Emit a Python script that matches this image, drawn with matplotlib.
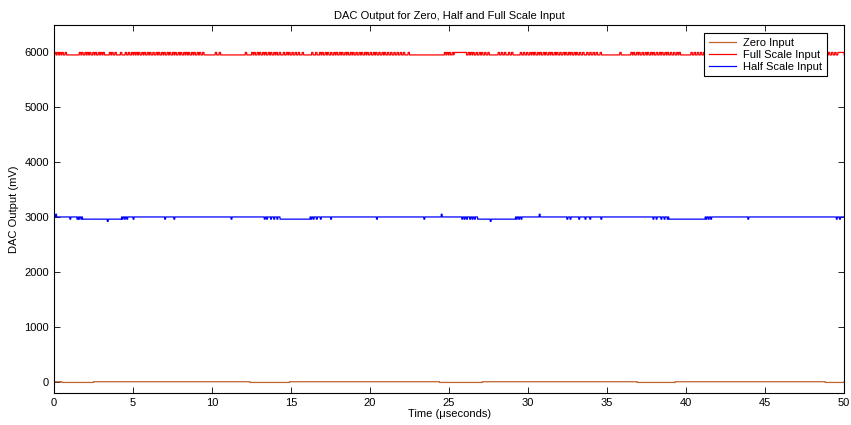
import numpy as np
import matplotlib
matplotlib.use("Agg")
import matplotlib.pyplot as plt

plt.rcParams['font.family'] = ['Liberation Sans', 'DejaVu Sans']

# levels (mV)
zero_hi = 5
zero_lo = -8
half_hi = 3005
half_lo = 2965
half_deep = 2925
half_up = 3055
full_lo = 5955
full_hi = 6000

# zero input: spans where the line sits on the lower level (us)
zero_low_spans = [(0.5, 2.5), (12.4, 14.9), (24.4, 27.1), (36.9, 39.3), (48.8, 50.0)]

# half scale: spans on the lower level, short dips, deeper dips, up spikes
half_low_spans = [(1.85, 4.27), (14.3, 16.2), (26.8, 29.2), (38.9, 41.2)]
half_dips = [1.0, 1.45, 1.55, 1.7, 1.8, 4.3, 4.45, 4.6, 5.0, 7.0, 7.58, 11.2,
             13.3, 13.45, 13.7, 13.9, 14.1, 16.25, 16.4, 16.6, 16.85, 17.5,
             20.4, 23.4, 25.8, 25.95, 26.1, 26.3, 26.45, 26.6, 29.25, 29.4,
             29.55, 32.45, 32.65, 33.2, 33.6, 33.9, 34.6, 37.9, 38.1, 38.4,
             38.6, 38.8, 41.25, 41.4, 41.55, 43.9, 49.5, 49.7]
half_deep_dips = [3.37, 27.6]
half_up_spikes = [0.1, 24.5, 30.7]

# full scale: short pulses up to the higher code, plus longer high spans
full_pulses = [0.05, 0.2, 0.35, 0.5, 0.7,
               1.6, 1.75, 1.95, 2.1, 2.25, 2.45, 2.6, 2.8, 2.95, 3.1,
               3.5, 3.65, 3.85, 4.2, 4.5, 4.7, 4.9, 5.05, 5.2, 5.35, 5.55,
               5.7, 5.9, 6.05, 6.25, 6.45, 6.6, 6.8, 6.95, 7.15, 7.3, 7.5,
               7.65, 7.85, 8.0, 8.2, 8.35, 8.5, 8.7, 8.85, 9.05, 9.2, 9.4,
               10.2, 10.45, 12.1, 12.5, 12.65, 12.85, 13.0, 13.2, 13.35,
               13.55, 13.7, 13.9, 14.05, 14.25, 14.5, 14.7, 14.85, 15.05,
               15.25, 15.45, 15.7, 16.3, 16.55, 16.8, 16.95, 17.15, 17.3,
               17.5, 17.7, 17.85, 18.05, 18.2, 18.4, 18.55, 18.75, 18.9,
               19.1, 19.3, 19.45, 19.65, 19.8, 20.0, 20.2, 20.35, 20.55,
               20.75, 20.9, 21.1, 21.3, 21.5, 21.7, 21.9, 22.1, 22.4,
               24.7, 24.85, 25.0, 25.2, 26.2, 26.35, 26.5, 26.7, 26.9,
               27.05, 27.25, 27.45, 28.1, 28.3, 28.5, 28.75, 28.95, 29.5,
               29.7, 29.9, 30.1, 30.25, 30.4, 30.6, 30.75, 30.95, 31.1,
               31.3, 31.45, 31.65, 31.8, 32.0, 32.2, 32.35, 32.55, 32.7,
               32.9, 33.05, 33.25, 33.45, 33.7, 33.9, 34.1, 34.3, 34.55,
               35.8, 36.5, 36.65, 36.85, 37.0, 37.2, 37.4, 37.55, 37.75,
               37.9, 38.1, 38.3, 38.45, 38.65, 38.8, 39.0, 39.2, 39.4,
               39.55, 40.3, 40.5, 40.7, 40.9, 41.1, 42.0, 42.3, 42.6, 43.0,
               44.5, 44.8, 45.2, 47.0, 47.4, 49.0, 49.2, 49.4]
full_high_spans = [(25.3, 26.1), (49.6, 50.0)]

dip_w = 0.06
pulse_w = 0.09
t = np.linspace(0, 50, 10001)


def build(base, spans, span_lvl, events, event_lvl, width):
    y = np.full(t.shape, float(base))
    for a, b in spans:
        y[(t >= a) & (t < b)] = span_lvl
    for e in events:
        y[(t >= e) & (t < e + width)] = event_lvl
    return y


zero = build(zero_hi, zero_low_spans, zero_lo, [], zero_lo, dip_w)
half = build(half_hi, half_low_spans, half_lo, half_dips, half_lo, dip_w)
for e in half_deep_dips:
    half[(t >= e) & (t < e + dip_w)] = half_deep
for e in half_up_spikes:
    half[(t >= e) & (t < e + dip_w)] = half_up
full = build(full_lo, full_high_spans, full_hi, full_pulses, full_hi, pulse_w)

fig = plt.figure(figsize=(8.51, 4.25), dpi=100)
ax = fig.add_axes([0.0635, 0.0753, 0.9285, 0.8659])

ax.plot(t, zero, color='#c0622e', lw=0.9, label='Zero Input')
ax.plot(t, full, color='#ff0000', lw=0.9, label='Full Scale Input')
ax.plot(t, half, color='#0000ff', lw=0.9, label='Half Scale Input')

ax.set_xlim(0, 50)
ax.set_ylim(-200, 6500)
ax.set_xticks(np.arange(0, 51, 5))
ax.set_yticks(np.arange(0, 6001, 1000))
ax.tick_params(direction='in', top=True, right=True, labelsize=8, length=4, width=0.6)
for s in ax.spines.values():
    s.set_linewidth(0.8)

ax.set_title('DAC Output for Zero, Half and Full Scale Input', fontsize=8, pad=4)
ax.set_xlabel('Time (\u03bcseconds)', fontsize=8, labelpad=1)
ax.set_ylabel('DAC Output (mV)', fontsize=8, labelpad=4)

leg = ax.legend(loc='upper right', bbox_to_anchor=(0.978, 0.978), borderaxespad=0,
                fontsize=8, fancybox=False, framealpha=1, edgecolor='black',
                handlelength=2.4, borderpad=0.4, labelspacing=0.18, handletextpad=0.7)
leg.get_frame().set_linewidth(0.8)

fig.savefig('out.png', dpi=100)
